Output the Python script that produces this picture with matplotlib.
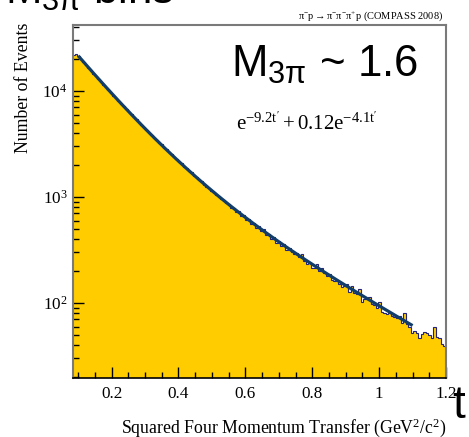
import numpy as np
import matplotlib
matplotlib.use("Agg")
import matplotlib.pyplot as plt
from matplotlib.ticker import FixedLocator, FuncFormatter, LogLocator, NullFormatter

plt.rcParams["mathtext.fontset"] = "custom"
plt.rcParams["mathtext.rm"] = "Liberation Serif"
plt.rcParams["mathtext.it"] = "Liberation Serif:italic"
plt.rcParams["mathtext.sf"] = "Liberation Sans"

SERIF = "Liberation Serif"
SANS = "Liberation Sans"

# t' histogram: 149 bins of width 0.0075 starting at 0.0825 GeV^2/c^2
bin_start = 0.0825
bin_width = 0.0075
counts = [
    21900, 22300, 21200, 20050, 18750, 17700, 16560, 15650, 14640, 13850,
    12970, 12250, 11480, 10880, 10190, 9640, 9040, 8570, 8030, 7620,
    7150, 6790, 6360, 6050, 5680, 5410, 5060, 4830, 4530, 4330,
    4050, 3880, 3630, 3485, 3260, 3135, 2925, 2830, 2640, 2545,
    2370, 2300, 2150, 2085, 1935, 1880, 1760, 1710, 1590, 1560,
    1440, 1415, 1310, 1255, 1222, 1148, 1112, 1043, 1021, 952,
    934, 872, 861, 794, 789, 729, 731, 668, 672, 610,
    621, 561, 573, 515, 532, 477, 496, 441, 449, 404,
    423, 372, 384, 346, 362, 319, 330, 302, 288, 296,
    270, 292, 248, 232, 236, 215, 214, 232, 200, 214,
    190, 181, 186, 165, 160, 166, 152, 143, 144, 150,
    128, 146, 124, 121, 135, 103, 110, 108, 113, 98,
    95, 90, 103, 83, 80, 78, 80, 76, 74, 72,
    76, 65, 80, 63, 60, 52, 55, 52, 47, 51,
    53, 52, 50, 47, 60, 48, 47, 41, 39,
]

# fit: N * (exp(-b1 t') + a2 * exp(-b2 t')) over 0.1 < t' < 1.1
fit_norm = 45000
fit_b1 = 9.2
fit_a2 = 0.12
fit_b2 = 4.1
fit_range = (0.1, 1.1)

x_ticks = [0.2, 0.4, 0.6, 0.8, 1.0, 1.2]

counts = np.asarray(counts, dtype=float)
edges = bin_start + bin_width * np.arange(len(counts) + 1)

fig = plt.figure(figsize=(4.69, 4.37), dpi=100)
W, H = 469, 437
ax = fig.add_axes([73 / W, 1 - 378 / H, (446 - 73) / W, (378 - 25) / H])

ax.stairs(counts, edges, fill=True, color="#FFCC00", baseline=1, zorder=1)
ax.stairs(counts, edges, color="#23237f", lw=0.8, baseline=None, zorder=2)

tf = np.linspace(*fit_range, 400)
yf = fit_norm * (np.exp(-fit_b1 * tf) + fit_a2 * np.exp(-fit_b2 * tf))
ax.plot(tf, yf, color="#123d69", lw=2.3, solid_capstyle="butt", zorder=3)

ax.set_yscale("log")
ax.set_xlim(0.0845, 1.2)
ax.set_ylim(19.6, 42000)

ax.xaxis.set_major_locator(FixedLocator(x_ticks))
ax.xaxis.set_minor_locator(FixedLocator(np.arange(0.1, 1.2001, 0.05)))
ax.xaxis.set_major_formatter(FuncFormatter(lambda v, p: f"{v:g}"))
ax.yaxis.set_major_locator(LogLocator(base=10))
ax.yaxis.set_minor_locator(LogLocator(base=10, subs=np.arange(2, 10)))
ax.yaxis.set_minor_formatter(NullFormatter())
ax.yaxis.set_major_formatter(
    FuncFormatter(lambda v, p: r"$\mathrm{10^{%d}}$" % round(np.log10(v))))

ax.tick_params(which="both", direction="in", top=False, right=False,
               color="black", width=1.0)
ax.tick_params(which="major", length=8, labelsize=12.3)
ax.tick_params(axis="x", which="major", pad=6)
ax.tick_params(axis="y", which="major", pad=4)
ax.tick_params(which="minor", length=4.5)
for lab in ax.get_xticklabels() + ax.get_yticklabels():
    lab.set_fontfamily(SERIF)

for side in ("left", "top", "right"):
    ax.spines[side].set_color("#7a7a7a")
    ax.spines[side].set_linewidth(1.5)
ax.spines["bottom"].set_color("black")
ax.spines["bottom"].set_linewidth(1.2)

fig.text(446 / W, 1 - 428 / H,
         r"Squared Four Momentum Transfer (GeV$^\mathrm{2}$/c$^\mathrm{2}$)",
         ha="right", va="center", fontsize=12.8, family=SERIF)
fig.text(24 / W, 1 - 23 / H, "Number of Events", rotation=90,
         ha="center", va="top", fontsize=12.8, family=SERIF)

fig.text(443 / W, 1 - 16 / H,
         r"$\mathrm{\pi^{-}p \rightarrow \pi^{-}\pi^{-}\pi^{+}p}$ (COMPASS 2008)",
         ha="right", va="center", fontsize=7.5, family=SERIF)

fig.text(236 / W, 1 - 131 / H,
         r"$\mathrm{e^{-9.2t'} + 0.12e^{-4.1t'}}$",
         ha="left", va="baseline", fontsize=15, family=SERIF)

fig.text(231 / W, 1 - 77 / H, r"$\mathsf{M_{3\pi}}$ ~ 1.6",
         ha="left", va="baseline", fontsize=31.5, family=SANS)
fig.text(5 / W, 1 - 4 / H, r"$\mathsf{M_{3\pi}}$ bins",
         ha="left", va="baseline", fontsize=31.5, family=SANS)
fig.text(452 / W, 1 - 418 / H, "t",
         ha="left", va="baseline", fontsize=33, family=SANS)

fig.savefig("out.png", dpi=100)
